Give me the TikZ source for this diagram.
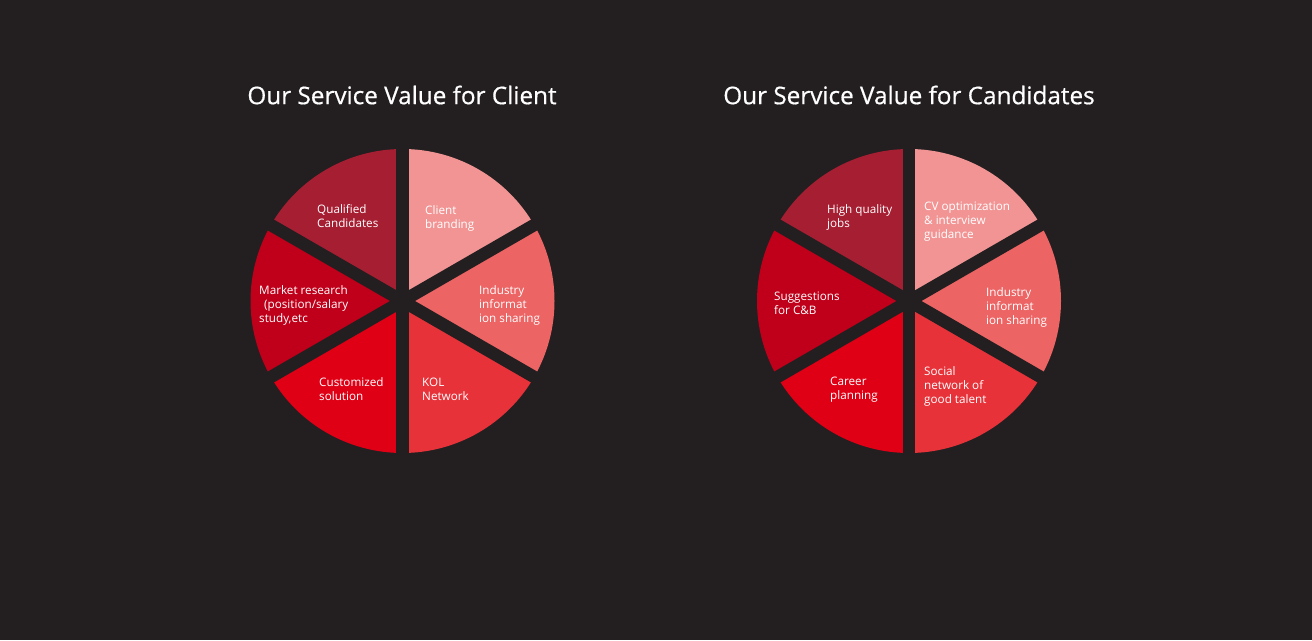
\documentclass[tikz,border=0pt]{standalone}
\usepackage{fontspec}
\setmainfont{Open Sans}
\newfontfamily\ttlfont[FakeBold=0.6]{Open Sans}
\definecolor{bg}{HTML}{231F20}
\definecolor{cA}{HTML}{A61E32}
\definecolor{cB}{HTML}{F29494}
\definecolor{cC}{HTML}{EC6464}
\definecolor{cD}{HTML}{E8323A}
\definecolor{cE}{HTML}{E00016}
\definecolor{cF}{HTML}{C0001A}
\tikzset{
  lbl/.style={anchor=west, align=left, text=white, font=\fontsize{11.7}{14}\selectfont, inner sep=0pt},
  ttl/.style={text=white, font=\ttlfont\fontsize{24.3}{28}\selectfont, inner sep=0pt},
  gapline/.style={draw=bg, line width=12.5pt},
}
\newcommand{\pie}[1]{%
  \fill[cB] (#1) -- ++(90:152pt) arc[start angle=90, end angle=30, radius=152pt] -- cycle;
  \fill[cC] (#1) -- ++(30:152pt) arc[start angle=30, end angle=-30, radius=152pt] -- cycle;
  \fill[cD] (#1) -- ++(-30:152pt) arc[start angle=-30, end angle=-90, radius=152pt] -- cycle;
  \fill[cE] (#1) -- ++(-90:152pt) arc[start angle=-90, end angle=-150, radius=152pt] -- cycle;
  \fill[cF] (#1) -- ++(-150:152pt) arc[start angle=-150, end angle=-210, radius=152pt] -- cycle;
  \fill[cA] (#1) -- ++(150:152pt) arc[start angle=150, end angle=90, radius=152pt] -- cycle;
  \draw[gapline] ($(#1)+(90:160pt)$) -- ($(#1)+(-90:160pt)$);
  \draw[gapline] ($(#1)+(30:160pt)$) -- ($(#1)+(-150:160pt)$);
  \draw[gapline] ($(#1)+(-30:160pt)$) -- ($(#1)+(150:160pt)$);
}
\usetikzlibrary{calc}
\begin{document}
\begin{tikzpicture}[x=1pt,y=1pt]
\fill[bg] (0,0) rectangle (1312,640);
\useasboundingbox (0,0) rectangle (1312,640);
\coordinate (L) at (402.5,339);
\coordinate (R) at (909,339);
\pie{L}
\pie{R}
\node[ttl] (t1) at (402,545) {Our Service Value for Client};
\node[ttl] (t2) at (909,545) {Our Service Value for Candidates};
% left pie labels
\node[lbl] (l1) at (317,424) {Qualified\\Candidates};
\node[lbl] (l2) at (425,422) {Client\\branding};
\node[lbl] (l3) at (479,335) {Industry\\informat\\ion sharing};
\node[lbl] (l4) at (259,335) {Market research\\\hspace*{5pt}(position/salary\\study,etc};
\node[lbl] (l5) at (319,251) {Customized\\solution};
\node[lbl] (l6) at (422,251) {KOL\\Network};
% right pie labels
\node[lbl] (r1) at (827,423) {High quality\\jobs};
\node[lbl] (r2) at (924,418) {CV optimization\\\& interview\\guidance};
\node[lbl] (r3) at (986,333) {Industry\\informat\\ion sharing};
\node[lbl] (r4) at (774,337) {Suggestions\\for C\&B};
\node[lbl] (r5) at (830,250) {Career\\planning};
\node[lbl] (r6) at (924,254) {Social\\network of\\good talent};
\end{tikzpicture}
\end{document}
